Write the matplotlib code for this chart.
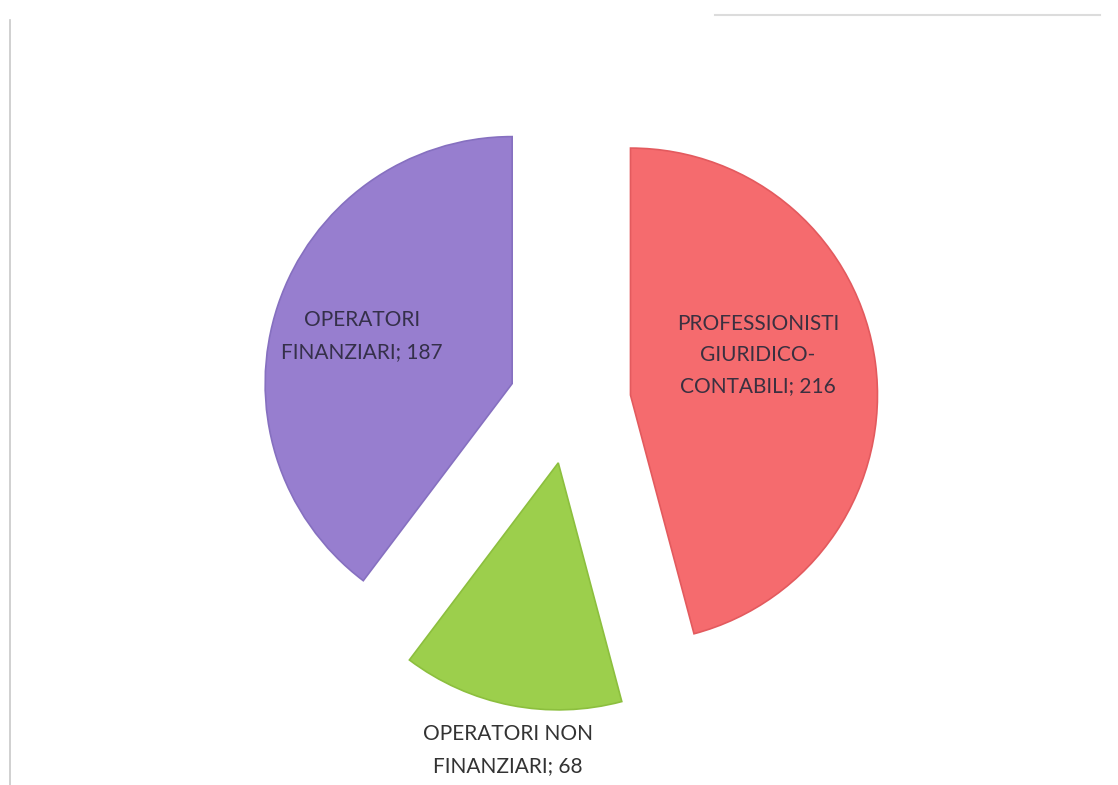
import matplotlib
matplotlib.use("Agg")
import matplotlib.pyplot as plt

categories = ["PROFESSIONISTI\nGIURIDICO-\nCONTABILI", "OPERATORI NON\nFINANZIARI", "OPERATORI\nFINANZIARI"]
values = [216, 68, 187]
colors = ["#F56B6E", "#9CCF4C", "#977ECF"]
edges = ["#E35A5E", "#8CBF3E", "#8670C0"]

W, H = 1118, 785
fig = plt.figure(figsize=(W / 100, H / 100), dpi=100)
ax = fig.add_axes([0, 0, 1, 1])
ax.set_xlim(0, W)
ax.set_ylim(0, H)
ax.set_aspect("equal")
ax.axis("off")

cx, cy = 570, H - 403
radius = 247
expl = 61

wedges, _ = ax.pie(values, colors=colors, startangle=90, counterclock=False,
                   center=(cx, cy), radius=radius, explode=[expl] * len(values),
                   frame=True, wedgeprops=dict(linewidth=1.2))
for w, e in zip(wedges, edges):
    w.set_edgecolor(e)
ax.set_xlim(0, W)
ax.set_ylim(0, H)
ax.axis("off")

label_pos = [(758, H - 355), (508, H - 750), (362, H - 336)]
label_col = ["#3a3040", "#333333", "#35304a"]
for cat, v, (lx, ly), c in zip(categories, values, label_pos, label_col):
    ax.text(lx, ly, f"{cat}; {v}", ha="center", va="center", fontsize=15,
            family="Lato", color=c, linespacing=1.7)

# faint scan border lines
ax.plot([10, 10], [H - 20, 0], color="#c8c8c8", lw=1.2)
ax.plot([715, 1100], [H - 15, H - 15], color="#dcdcdc", lw=1.5)

fig.savefig("out.png", dpi=100, facecolor="white")
